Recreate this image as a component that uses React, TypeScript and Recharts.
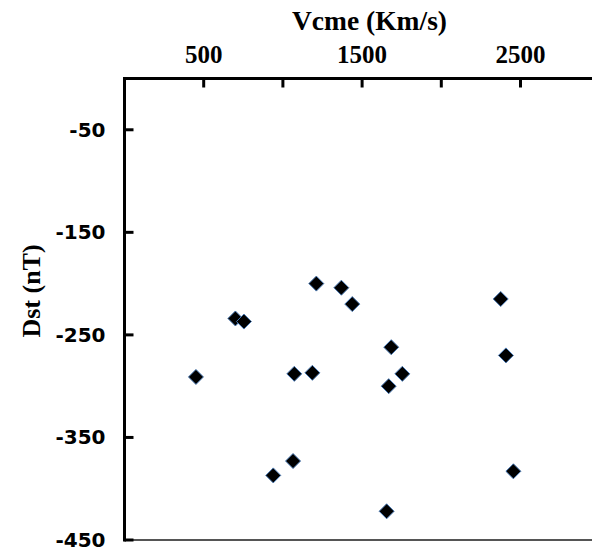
import React from 'react';
import { ScatterChart, Scatter, XAxis, YAxis, ReferenceLine } from 'recharts';

// Vcme (Km/s) and Dst (nT) values
const vcme = [451, 700, 754, 1211, 1369, 1438, 1072, 1186, 1684, 1668, 1754, 939, 1064, 1655, 2375, 2408, 2455];
const dst = [-291, -234, -237, -200, -204, -220, -288, -287, -262, -300, -288, -387, -373, -422, -215, -270, -383];

const xTicks = [500, 1000, 1500, 2000, 2500, 3000];
const xLabelled = [500, 1500, 2500];
const yTicks = [-450, -350, -250, -150, -50];

const data = vcme.map((v, i) => ({ x: v, y: dst[i] }));

const XTick = (props: any) => {
  const { x, y, payload } = props;
  const show = xLabelled.includes(payload.value);
  return (
    <g>
      <line x1={x} y1={y} x2={x} y2={y + 9} stroke="#000" strokeWidth={3} />
      {show && (
        <text x={x} y={y - 16} textAnchor="middle" fontFamily="'Liberation Serif', 'Times New Roman', serif" fontWeight="bold" fontSize={25} fill="#000">
          {payload.value}
        </text>
      )}
    </g>
  );
};

const YTick = (props: any) => {
  const { x, y, payload } = props;
  return (
    <g>
      <line x1={x} y1={y} x2={x + 9} y2={y} stroke="#000" strokeWidth={3} />
      <text x={x - 19} y={y + 7} textAnchor="end" fontFamily="'DejaVu Sans', sans-serif" fontWeight="bold" fontSize={20} fill="#000">
        {payload.value}
      </text>
    </g>
  );
};

const Diamond = (props: any) => {
  const { cx, cy } = props;
  const r = 7.5;
  return (
    <path
      d={`M${cx},${cy - r}L${cx + r},${cy}L${cx},${cy + r}L${cx - r},${cy}Z`}
      fill="#000"
      stroke="#4a7ab5"
      strokeWidth={1}
    />
  );
};

export default function App() {
  return (
    <div style={{ position: 'absolute', left: 0, top: 0, width: 592, height: 552, overflow: 'hidden', background: '#fff' }}>
      <ScatterChart width={640} height={552} margin={{ top: 18.5, right: 40.3, bottom: 12, left: 24.5 }}>
        <XAxis
          type="number"
          dataKey="x"
          orientation="top"
          domain={[0, 3000]}
          ticks={xTicks}
          height={60}
          tickSize={0}
          tickMargin={0}
          tickLine={false}
          tick={<XTick />}
          axisLine={{ stroke: '#000', strokeWidth: 3, strokeLinecap: 'square' }}
          allowDataOverflow
          label={{
            content: () => (
              <text x={369.5} y={30} textAnchor="middle" fontFamily="'Liberation Serif', 'Times New Roman', serif" fontWeight="bold" fontSize={27.5} fill="#000">
                Vcme (Km/s)
              </text>
            ),
          }}
        />
        <YAxis
          type="number"
          dataKey="y"
          domain={[-450, 0]}
          ticks={yTicks}
          width={100}
          tickSize={0}
          tickMargin={0}
          tickLine={false}
          tick={<YTick />}
          axisLine={{ stroke: '#000', strokeWidth: 3, strokeLinecap: 'square' }}
          allowDataOverflow
          label={{
            content: () => (
              <text x={40} y={291} transform="rotate(-90 40 291)" textAnchor="middle" fontFamily="'Liberation Serif', 'Times New Roman', serif" fontWeight="bold" fontSize={26} fill="#000">
                Dst (nT)
              </text>
            ),
          }}
        />
        <ReferenceLine y={-450} stroke="#555" strokeWidth={2} />
        <Scatter data={data} shape={<Diamond />} isAnimationActive={false} />
      </ScatterChart>
    </div>
  );
}
